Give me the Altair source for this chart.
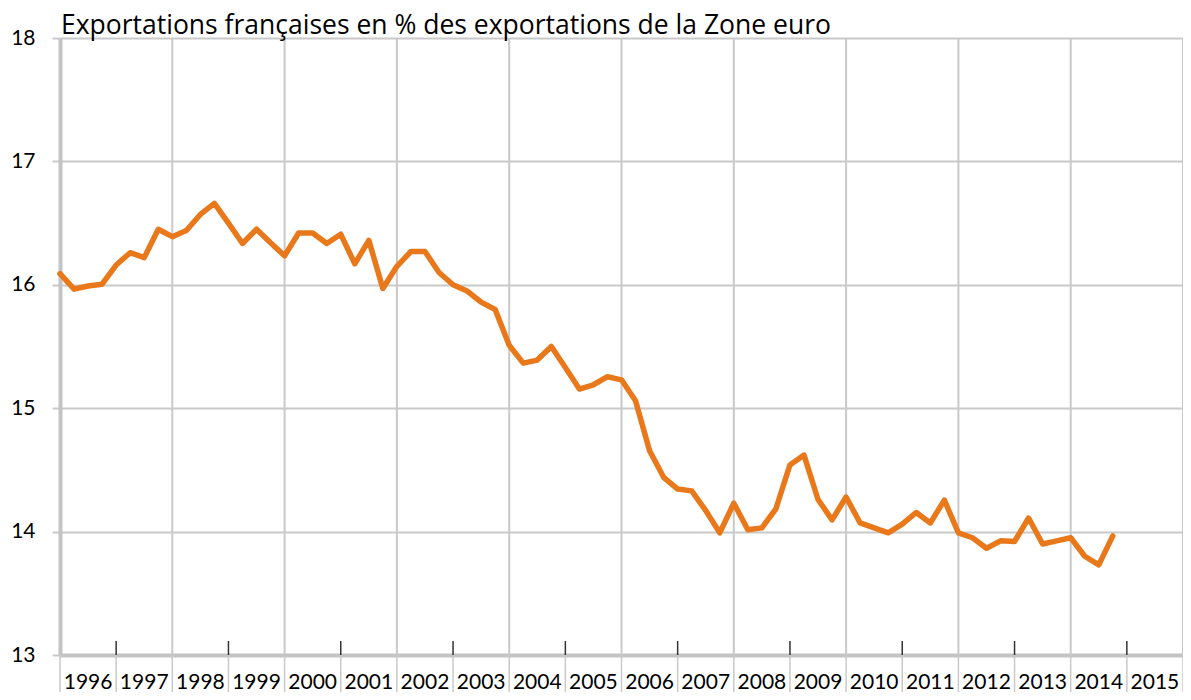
import altair as alt
import pandas as pd

# ---- data ----
start_year = 1996
quarters = ["T1", "T2", "T3", "T4"]
values = [
    16.09, 15.965, 15.99, 16.005,   # 1996
    16.16, 16.26, 16.22, 16.45,     # 1997
    16.39, 16.44, 16.57, 16.66,     # 1998
    16.50, 16.335, 16.45, 16.34,    # 1999
    16.235, 16.42, 16.42, 16.335,   # 2000
    16.41, 16.17, 16.36, 15.97,     # 2001
    16.15, 16.27, 16.27, 16.10,     # 2002
    16.00, 15.95, 15.86, 15.80,     # 2003
    15.51, 15.365, 15.39, 15.50,    # 2004
    15.33, 15.155, 15.19, 15.255,   # 2005
    15.23, 15.06, 14.655, 14.44,    # 2006
    14.345, 14.33, 14.17, 13.99,    # 2007
    14.23, 14.015, 14.03, 14.185,   # 2008
    14.54, 14.62, 14.26, 14.095,    # 2009
    14.28, 14.07, 14.03, 13.99,     # 2010
    14.06, 14.155, 14.07, 14.255,   # 2011
    13.99, 13.95, 13.865, 13.925,   # 2012
    13.92, 14.11, 13.90, 13.925,    # 2013
    13.95, 13.80, 13.73, 13.965,    # 2014
]
year_labels = list(range(1996, 2016))
year_bounds = list(range(1996, 2017))
grid_years = [1998, 2000, 2002, 2004, 2006, 2008, 2010, 2012, 2014, 2016]
tick_years = [1997, 1999, 2001, 2003, 2005, 2007, 2009, 2011, 2013, 2015]
y_ticks = [13, 14, 15, 16, 17, 18]
subtitle = "Exportations françaises en % des exportations de la Zone euro"

# ---- tables ----
rows = []
for i, v in enumerate(values):
    y = start_year + i // 4
    q = i % 4
    rows.append({"periode": f"{y}{quarters[q]}", "t": y + q / 4, "v": v})
df = pd.DataFrame(rows)
df_labels = pd.DataFrame({"annee": [str(y) for y in year_labels],
                          "mid": [y + 0.5 for y in year_labels]})
df_bounds = pd.DataFrame({"b": year_bounds})
df_grid = pd.DataFrame({"g": grid_years})
df_ticks = pd.DataFrame({"k": tick_years})

FONT = "Lato"
W, H = 1123, 617
GRID = "#c9c9c9"
AXIS = "#c4c4c4"
ORANGE = "#E9781A"

xs = alt.Scale(domain=[1996, 2016], nice=False, zero=False)
ys = alt.Scale(domain=[13, 18], nice=False, zero=False)

x_axis = alt.Axis(values=[1996], labels=False, ticks=False, grid=False,
                  domain=True, domainColor=AXIS, domainWidth=4, title=None)
y_axis = alt.Axis(values=y_ticks, grid=True, gridColor=GRID, gridWidth=2,
                  ticks=True, tickSize=8, tickColor=GRID, tickWidth=2,
                  domain=True, domainColor=AXIS, domainWidth=4,
                  labelFont=FONT, labelFontSize=21, labelColor="#000000",
                  labelPadding=17, title=None)

vgrid = alt.Chart(df_grid).mark_rule(color=GRID, strokeWidth=2).encode(
    x=alt.X("g:Q", scale=xs, axis=x_axis),
    y=alt.value(0), y2=alt.value(H),
)
below = alt.Chart(df_bounds).mark_rule(color=GRID, strokeWidth=1.5).encode(
    x=alt.X("b:Q", scale=xs),
    y=alt.value(H), y2=alt.value(H + 40),
)
oddticks = alt.Chart(df_ticks).mark_rule(color="#333333", strokeWidth=1.5).encode(
    x=alt.X("k:Q", scale=xs),
    y=alt.value(H - 14), y2=alt.value(H),
)
line = alt.Chart(df).mark_line(color=ORANGE, strokeWidth=5.5, strokeJoin="round",
                               strokeCap="round").encode(
    x=alt.X("t:Q", scale=xs, axis=x_axis),
    y=alt.Y("v:Q", scale=ys, axis=y_axis),
    order="t:Q",
)
labels = alt.Chart(df_labels).mark_text(font=FONT, fontSize=21, color="#000000",
                                        baseline="alphabetic", align="center").encode(
    x=alt.X("mid:Q", scale=xs),
    y=alt.value(H + 34),
    text="annee:N",
)
title = alt.Chart(pd.DataFrame({"s": [subtitle]})).mark_text(
    font="Open Sans", fontSize=26.5, color="#000000", baseline="alphabetic", align="left"
).encode(x=alt.value(1), y=alt.value(-4), text="s:N")

chart = alt.layer(vgrid, below, oddticks, line, labels, title).properties(
    width=W, height=H,
    autosize=alt.AutoSizeParams(type="none"),
    padding={"left": 52, "top": 30, "right": 0, "bottom": 37},
).configure_view(stroke=None)

chart.save("out.html", embed_options={"renderer": "svg", "actions": False})
